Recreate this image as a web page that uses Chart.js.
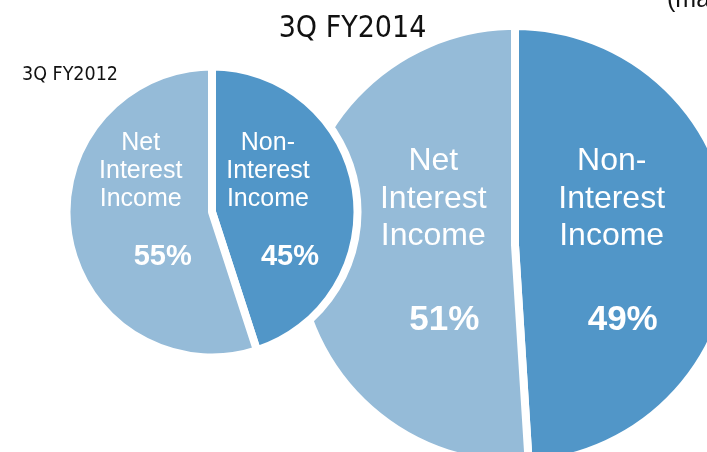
<!DOCTYPE html>
<html>
<head>
<meta charset="utf-8">
<script src="https://cdn.jsdelivr.net/npm/chart.js@4/dist/chart.umd.min.js"></script>
<style>
    body { margin: 0; background: #fff; }
    #wrap { position: relative; width: 707px; height: 452px; overflow: hidden; background: #fff; }
    canvas { position: absolute; }
    #small { left: 62px; top: 62px; }
    #big { left: 275px; top: 5px; }
    .title { position: absolute; color: #111; font-family: "Liberation Sans Narrow", "DejaVu Sans Condensed", sans-serif; white-space: nowrap; }
    #t2014 { left: 0; width: 705px; text-align: center; top: 9px; font-size: 30px; }
    #t2012 { left: 22px; top: 62px; font-size: 19.5px; }
    #unit { left: 667px; top: -16px; font-size: 25px; font-family: "Liberation Sans", sans-serif; }
</style>
</head>
<body>
<div id="wrap">
    <canvas id="big" width="480" height="480"></canvas>
    <canvas id="small" width="300" height="300"></canvas>
    <div class="title" id="t2014">3Q FY2014</div>
    <div class="title" id="t2012">3Q FY2012</div>
    <div class="title" id="unit">(managerial basis)</div>
</div>
<script>
// Slices in clockwise order from 12 o'clock
const categories = ['Non-Interest Income', 'Net Interest Income'];
const categoryLines = [['Non-', 'Interest', 'Income'], ['Net', 'Interest', 'Income']];
const fy2012Values = [45, 55];
const fy2014Values = [49, 51];
const sliceColors = ['#5196c8', '#95bbd8'];

// Draws the name and the percentage inside each slice
const sliceLabels = {
    id: 'sliceLabels',
    afterDatasetsDraw(chart, args, opts) {
        const ctx = chart.ctx;
        const arcs = chart.getDatasetMeta(0).data;
        const values = chart.data.datasets[0].data;
        ctx.save();
        ctx.fillStyle = '#fff';
        ctx.textAlign = 'center';
        ctx.textBaseline = 'alphabetic';
        arcs.forEach((arc, i) => {
            const mid = (arc.startAngle + arc.endAngle) / 2;
            const x = arc.x + Math.cos(mid) * opts.fracs[i] * (arc.outerRadius - 4);
            const lines = categoryLines[i];
            ctx.font = opts.nameSize + 'px "Liberation Sans", Arial, sans-serif';
            lines.forEach((line, j) => {
                const y = arc.y + opts.nameBase - (lines.length - 1 - j) * opts.lineGap;
                ctx.fillText(line, x, y);
            });
            ctx.font = 'bold ' + opts.pctSize + 'px "Liberation Sans", Arial, sans-serif';
            ctx.fillText(values[i] + '%', x + opts.pctShift, arc.y + opts.pctBase);
        });
        ctx.restore();
    }
};

function makePie(id, values, radius, labelOpts) {
    return new Chart(document.getElementById(id), {
        type: 'pie',
        data: {
            labels: categories,
            datasets: [{
                data: values,
                backgroundColor: sliceColors,
                borderColor: '#fff',
                borderWidth: 8
            }]
        },
        options: {
            responsive: false,
            animation: false,
            radius: radius,
            events: [],
            plugins: {
                legend: { display: false },
                tooltip: { enabled: false },
                sliceLabels: labelOpts
            }
        },
        plugins: [sliceLabels]
    });
}

makePie('big', fy2014Values, 219, {
    fracs: [0.45, 0.38], nameSize: 32, lineGap: 37.5, nameBase: 0,
    pctSize: 35, pctBase: 85, pctShift: 11
});

makePie('small', fy2012Values, 145.5, {
    fracs: [0.4, 0.51], nameSize: 25, lineGap: 28, nameBase: -6,
    pctSize: 29, pctBase: 53, pctShift: 22
});
</script>
</body>
</html>
